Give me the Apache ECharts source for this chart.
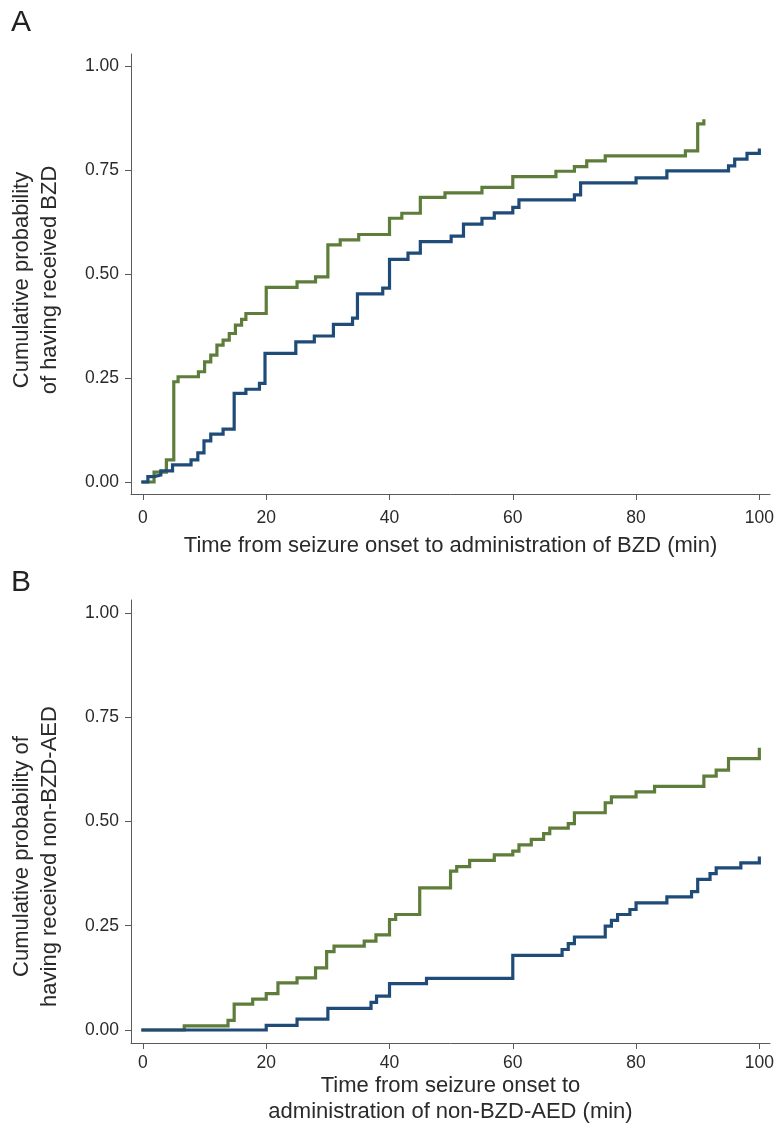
<!DOCTYPE html>
<html>
<head>
<meta charset="utf-8">
<script src="https://cdn.jsdelivr.net/npm/echarts@6/dist/echarts.min.js"></script>
<style>
html,body{margin:0;padding:0;background:#fff;}
#c{width:778px;height:1131px;}
</style>
</head>
<body>
<div id="c"></div>
<script>
// ---- Data ----
const xTicks = [0, 20, 40, 60, 80, 100];
const yTicks = [0, 0.25, 0.5, 0.75, 1];

// Panel A: time to BZD
const aGreenT = [0, 1.8, 3.8, 5, 5.7, 9, 10, 11, 12, 13, 14, 15, 16, 16.7, 20, 25, 28, 30, 32, 35, 40, 42, 45, 49, 55, 60, 67, 70, 72, 75, 88, 90, 91];
const aGreenP = [0, 0.024, 0.053, 0.241, 0.253, 0.265, 0.289, 0.305, 0.329, 0.341, 0.357, 0.377, 0.391, 0.405, 0.468, 0.481, 0.493, 0.570, 0.582, 0.595, 0.634, 0.646, 0.684, 0.695, 0.708, 0.734, 0.747, 0.758, 0.772, 0.784, 0.796, 0.861, 0.868];
const aBlueT = [0, 0.8, 1.8, 2.9, 4.8, 7.8, 8.9, 9.9, 11, 13, 14.8, 16.7, 18.9, 19.8, 24.8, 27.8, 30.9, 34, 34.8, 38.9, 40, 43, 45, 50, 52, 55, 57, 60, 61, 70, 71, 80, 85, 95, 96, 98, 100];
const aBlueP = [0, 0.013, 0.017, 0.027, 0.041, 0.053, 0.070, 0.099, 0.115, 0.127, 0.213, 0.223, 0.237, 0.309, 0.337, 0.351, 0.379, 0.394, 0.452, 0.466, 0.535, 0.550, 0.578, 0.591, 0.620, 0.634, 0.647, 0.660, 0.678, 0.690, 0.719, 0.731, 0.748, 0.760, 0.776, 0.790, 0.798];

// Panel B: time to non-BZD-AED
const bGreenT = [0, 6.7, 13.8, 14.8, 17.8, 20, 21.9, 25, 28, 29.8, 31, 35.9, 37.8, 40, 41, 44.9, 49.9, 50.9, 53, 57, 60, 61, 63, 65, 66, 69, 70, 75, 76, 80, 83, 91, 93, 95, 100];
const bGreenP = [0, 0.010, 0.023, 0.062, 0.074, 0.087, 0.113, 0.125, 0.149, 0.188, 0.201, 0.213, 0.228, 0.265, 0.277, 0.341, 0.381, 0.392, 0.407, 0.420, 0.429, 0.444, 0.457, 0.471, 0.484, 0.495, 0.521, 0.545, 0.559, 0.571, 0.584, 0.609, 0.623, 0.651, 0.673];
const bBlueT = [0, 20, 25, 30, 37, 37.9, 40, 46, 60, 68, 69, 70, 75, 76, 77, 79, 80, 85, 89, 90, 92, 93, 97, 100];
const bBlueP = [0, 0.011, 0.026, 0.052, 0.066, 0.081, 0.111, 0.124, 0.179, 0.193, 0.207, 0.223, 0.249, 0.263, 0.277, 0.289, 0.305, 0.319, 0.332, 0.361, 0.375, 0.389, 0.401, 0.412];

const panelLetters = ['A', 'B'];
const xTitles = ['Time from seizure onset to administration of BZD (min)', 'Time from seizure onset to\nadministration of non-BZD-AED (min)'];
const yTitles = ['Cumulative probability\nof having received BZD', 'Cumulative probability of\nhaving received non-BZD-AED'];

// ---- Styling ----
const GREEN = '#5e7d3a';
const BLUE = '#1e4b78';
const AXIS = '#5a5a5a';
const TXT = '#2a2a2a';
const FONT = '"Liberation Sans", Arial, Helvetica, sans-serif';

const pairs = (t, p) => t.map((v, i) => [v, p[i]]);

function xAxis(gi, name, gap, labelMargin) {
  return {
    type: 'value', gridIndex: gi, min: -1.94, max: 101.73,
    name: name, nameLocation: 'middle', nameGap: gap,
    nameTextStyle: { fontSize: 22, color: TXT, fontFamily: FONT, lineHeight: 26 },
    axisLine: { show: true, onZero: false, lineStyle: { color: AXIS, width: 1 } },
    axisTick: { show: true, length: 6, lineStyle: { color: AXIS }, customValues: xTicks },
    axisLabel: { fontSize: 17.5, color: TXT, fontFamily: FONT, margin: labelMargin, customValues: xTicks },
    splitLine: { show: false }
  };
}
function yAxis(gi, name, min, max, pad) {
  return {
    type: 'value', gridIndex: gi, min: min, max: max,
    name: name, nameLocation: 'middle', nameGap: 67, nameRotate: 90,
    nameTextStyle: { fontSize: 22, color: TXT, fontFamily: FONT, lineHeight: 28, padding: [0, pad, 0, 0] },
    axisLine: { show: true, onZero: false, lineStyle: { color: AXIS, width: 1 } },
    axisTick: { show: true, length: 6, lineStyle: { color: AXIS }, customValues: yTicks },
    axisLabel: { fontSize: 17.5, color: TXT, fontFamily: FONT, margin: 12, customValues: yTicks,
      formatter: v => v.toFixed(2) },
    splitLine: { show: false }
  };
}
function kmSeries(gi, data, color, z) {
  return {
    type: 'line', xAxisIndex: gi, yAxisIndex: gi, data: data, step: 'end',
    showSymbol: false, symbol: 'none', z: z,
    lineStyle: { color: color, width: 3.2, cap: 'square', join: 'miter' },
    emphasis: { disabled: true }
  };
}

const chart = echarts.init(document.getElementById('c'), null, { renderer: 'canvas' });
chart.setOption({
  animation: false,
  backgroundColor: '#fff',
  textStyle: { fontFamily: FONT },
  grid: [
    { left: 130, width: 640, top: 54, height: 440 },
    { left: 130, width: 640, top: 600, height: 443 }
  ],
  xAxis: [xAxis(0, xTitles[0], 39, 15), xAxis(1, xTitles[1], 30, 11)],
  yAxis: [yAxis(0, yTitles[0], -0.0288, 1.0288, 12), yAxis(1, yTitles[1], -0.0312, 1.0312, 70)],
  graphic: [
    { type: 'text', left: 11, top: 8, style: { text: panelLetters[0], fontSize: 30, fill: '#222', font: '30px ' + FONT } },
    { type: 'text', left: 11, top: 568, style: { text: panelLetters[1], fontSize: 30, fill: '#222', font: '30px ' + FONT } }
  ],
  series: [
    kmSeries(0, pairs(aGreenT, aGreenP), GREEN, 2),
    kmSeries(0, pairs(aBlueT, aBlueP), BLUE, 3),
    kmSeries(1, pairs(bGreenT, bGreenP), GREEN, 2),
    kmSeries(1, pairs(bBlueT, bBlueP), BLUE, 3)
  ]
});
</script>
</body>
</html>
